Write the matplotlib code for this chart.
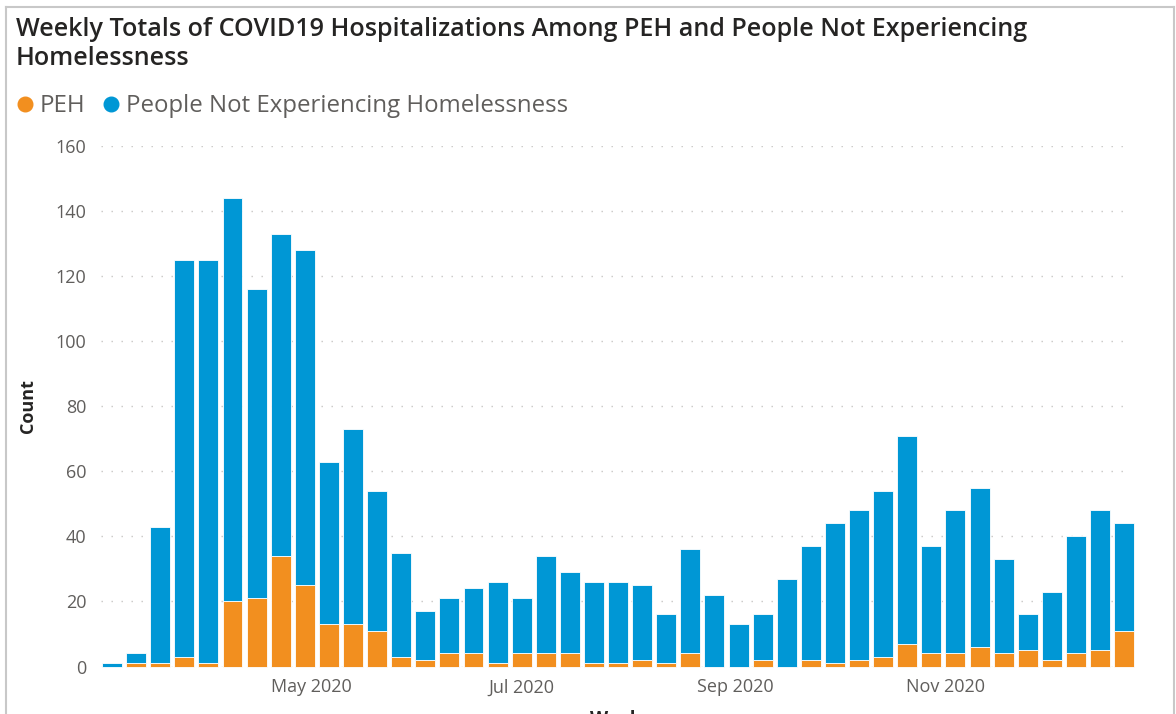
import matplotlib
matplotlib.use("Agg")
import matplotlib.pyplot as plt
import matplotlib.dates as mdates
from matplotlib.lines import Line2D
import pandas as pd

# ---- data ----
weeks = ["2020-03-04", "2020-03-11", "2020-03-18", "2020-03-25", "2020-04-01",
         "2020-04-08", "2020-04-15", "2020-04-22", "2020-04-29", "2020-05-06",
         "2020-05-13", "2020-05-20", "2020-05-27", "2020-06-03", "2020-06-10",
         "2020-06-17", "2020-06-24", "2020-07-01", "2020-07-08", "2020-07-15",
         "2020-07-22", "2020-07-29", "2020-08-05", "2020-08-12", "2020-08-19",
         "2020-08-26", "2020-09-02", "2020-09-09", "2020-09-16", "2020-09-23",
         "2020-09-30", "2020-10-07", "2020-10-14", "2020-10-21", "2020-10-28",
         "2020-11-04", "2020-11-11", "2020-11-18", "2020-11-25", "2020-12-02",
         "2020-12-09", "2020-12-16", "2020-12-23"]
peh = [0, 1, 1, 3, 1, 20, 21, 34, 25, 13, 13, 11, 3, 2, 4, 4, 1, 4, 4, 4,
       1, 1, 2, 1, 4, 0, 0, 2, 0, 2, 1, 2, 3, 7, 4, 4, 6, 4, 5, 2, 4, 5, 11]
not_peh = [1, 3, 42, 122, 124, 124, 95, 99, 103, 50, 60, 43, 32, 15, 17, 20,
           25, 17, 30, 25, 25, 25, 23, 15, 32, 22, 13, 14, 27, 35, 43, 46, 51,
           64, 33, 44, 49, 29, 11, 21, 36, 43, 33]
series_names = ["PEH", "People Not Experiencing Homelessness"]
yticks = [0, 20, 40, 60, 80, 100, 120, 140, 160]

ORANGE = "#F28F1F"
BLUE = "#0097D5"
DARK = "#252423"
GRAY = "#605E5C"

dates = pd.to_datetime(weeks)
W, H = 1176, 714
fig = plt.figure(figsize=(W / 100, H / 100), dpi=100)
ax = fig.add_axes([101 / W, 47.5 / H, 1029 / W, 520.5 / H])

bw = 5.8
ax.bar(dates, peh, width=bw, color=ORANGE, edgecolor="white", linewidth=0.6,
       clip_on=False, zorder=3, label=series_names[0])
ax.bar(dates, not_peh, bottom=peh, width=bw, color=BLUE, edgecolor="white",
       linewidth=0.6, clip_on=False, zorder=3, label=series_names[1])

x0 = mdates.date2num(pd.Timestamp("2020-03-04"))
ax.set_xlim(x0 - 3.2, x0 + 295.7)
ax.set_ylim(0, 160)
ax.set_yticks(yticks)
ax.xaxis.set_major_locator(mdates.MonthLocator(bymonth=[5, 7, 9, 11]))
ax.xaxis.set_major_formatter(mdates.DateFormatter("%b %Y"))

for s in ax.spines.values():
    s.set_visible(False)
ax.tick_params(axis="both", length=0, colors=GRAY, labelsize=13)
ax.tick_params(axis="y", pad=10.5)
ax.tick_params(axis="x", pad=8.5)
for lab in ax.get_xticklabels() + ax.get_yticklabels():
    lab.set_family("Open Sans")
ax.yaxis.grid(True, linestyle=(0, (1, 6.2)), linewidth=1, color="#C8C6C4")
ax.xaxis.grid(False)
ax.set_axisbelow(True)

ax.set_ylabel("Count", fontsize=13, fontweight="bold", color=DARK,
              family="Open Sans", labelpad=13)
ax.set_xlabel("Week", fontsize=13.5, fontweight="bold", color=DARK,
              family="Open Sans", labelpad=10)

fig.text(16 / W, 1 - 65 / H,
         "Weekly Totals of COVID19 Hospitalizations Among PEH and People Not Experiencing\nHomelessness",
         ha="left", va="baseline", fontsize=18.1, fontweight="semibold", color=DARK,
         family="Open Sans", linespacing=1.2)

handles = [Line2D([], [], marker="o", linestyle="", color=ORANGE, markersize=10.5),
           Line2D([], [], marker="o", linestyle="", color=BLUE, markersize=10.5)]
fig.legend(handles, series_names, loc="center left",
           bbox_to_anchor=(17 / W, 1 - 106 / H), frameon=False, ncol=2,
           handlelength=0.65, handletextpad=0.3, columnspacing=0.72,
           borderpad=0, borderaxespad=0,
           prop={"family": "Open Sans", "size": 17.3}, labelcolor=GRAY)

# outer frame of the visual
for xs, ys in [((6 / W, 6 / W), (0, 1 - 7 / H)),
               ((6 / W, 1174 / W), (1 - 7 / H, 1 - 7 / H)),
               ((1174 / W, 1174 / W), (1 - 7 / H, 0))]:
    fig.add_artist(Line2D(xs, ys, color="#C8C8C8", linewidth=1.5))

fig.savefig("out.png", dpi=100)
